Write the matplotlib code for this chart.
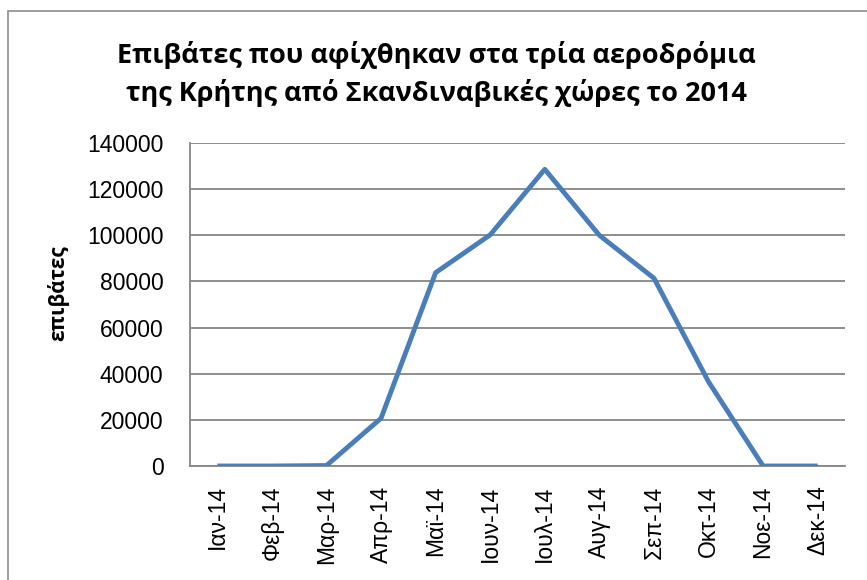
import numpy as np
import matplotlib
matplotlib.use("Agg")
import matplotlib.pyplot as plt
from matplotlib.patches import Rectangle

# monthly arrivals
months = ["Ιαν-14", "Φεβ-14", "Μαρ-14", "Απρ-14", "Μαϊ-14", "Ιουν-14",
          "Ιουλ-14", "Αυγ-14", "Σεπ-14", "Οκτ-14", "Νοε-14", "Δεκ-14"]
passengers = [0, 0, 200, 20700, 83800, 100200, 128600, 100000, 81400, 36500, 0, 0]
yticks = [0, 20000, 40000, 60000, 80000, 100000, 120000, 140000]

W, H = 867, 580
fig = plt.figure(figsize=(W / 100, H / 100), dpi=100)

# outer chart border (Excel chart area)
fig.patches.append(Rectangle((8 / W, -0.05), 1.1, 1 - 11 / H + 0.05, transform=fig.transFigure,
                             fill=False, edgecolor="#8c8c8c", linewidth=1.2))

ax = fig.add_axes([190 / W, 1 - 466 / H, (845 - 190) / W, (466 - 143) / H])
x = np.arange(len(months))
ax.plot(x, passengers, color="#4a7ebb", linewidth=3.5, solid_joinstyle="round", solid_capstyle="butt", zorder=3)

ax.set_xlim(-0.5, len(months) - 0.5)
ax.set_ylim(0, 140000)
ax.set_yticks(yticks)
ax.set_yticklabels([str(v) for v in yticks], fontfamily="Liberation Sans", fontsize=16.5)
ax.set_xticks(x)
ax.set_xticklabels(months, rotation=90, fontfamily="Liberation Sans", fontsize=16.5)
ax.tick_params(axis="y", length=0, pad=19)
ax.tick_params(axis="x", length=0, pad=14)

ax.grid(axis="y", color="#868686", linewidth=1.3)
ax.set_axisbelow(True)
for s in ["top", "right"]:
    ax.spines[s].set_visible(False)
for s in ["left", "bottom"]:
    ax.spines[s].set_color("#868686")
    ax.spines[s].set_linewidth(1.3)

fig.text(58 / W, 1 - 293 / H, "επιβάτες", rotation=90, ha="center", va="center",
         fontfamily="Open Sans", fontweight="bold", fontsize=15)

fig.text(436 / W, 1 - 74 / H, "Επιβάτες που αφίχθηκαν στα τρία αεροδρόμια\nτης Κρήτης από Σκανδιναβικές χώρες το 2014",
         ha="center", va="center", fontfamily="Open Sans", fontweight="bold", fontsize=19.5, linespacing=1.45)

fig.savefig("out.png", dpi=100)
